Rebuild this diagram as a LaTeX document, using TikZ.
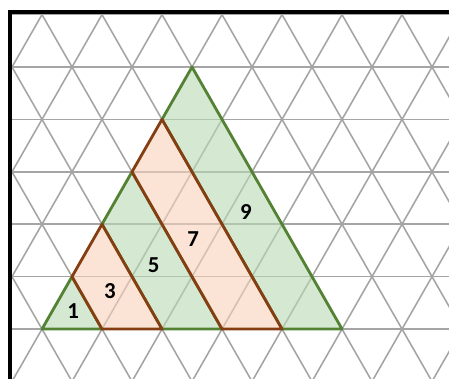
\documentclass[tikz,border=0pt]{standalone}
\usepackage{fontspec}
\setmainfont{Carlito}
\usetikzlibrary{calc}
\definecolor{gridgray}{RGB}{165,165,165}
\definecolor{rgreen}{RGB}{84,130,53}
\definecolor{rgreenfill}{RGB}{185,217,180}
\definecolor{rbrown}{RGB}{133,62,18}
\definecolor{rorangefill}{RGB}{248,210,187}
\tikzset{
  gline/.style={gridgray, line width=0.9pt},
  frame/.style={black, line width=2.5pt},
  gband/.style={draw=rgreen, fill=rgreenfill, fill opacity=0.6, line width=1.6pt, line join=round},
  oband/.style={draw=rbrown, fill=rorangefill, fill opacity=0.6, line width=1.6pt, line join=round},
  num/.style={font=\fontsize{13}{14}\selectfont\bfseries, text=black},
}

\begin{document}
\begin{tikzpicture}[x=1.2cm, y=1.048cm]
\useasboundingbox (-0.7,-0.935) rectangle (6.783,6.279);
% triangle grid
\begin{scope}
  \clip (-0.538,-0.935) rectangle (6.783,6.05);
  \foreach \r in {-1,...,6} \draw[gline] (-1,\r) -- (7,\r);
  \foreach \k in {-8,...,14} {
    \draw[gline] (\k-0.5,-1) -- (\k+3.5,7);
    \draw[gline] (\k+0.5,-1) -- (\k-3.5,7);
  }
\end{scope}
\draw[frame] (-0.538,-1.2) -- (-0.538,6.05) -- (7.2,6.05);
% odd bands
\draw[gband] (0,0) -- (1,0) -- (0.5,1) -- cycle;
\draw[gband] (1,2) -- (1.5,3) -- (3,0) -- (2,0) -- cycle;
\draw[gband] (2,4) -- (2.5,5) -- (5,0) -- (4,0) -- cycle;
\draw[oband] (0.5,1) -- (1,2) -- (2,0) -- (1,0) -- cycle;
\draw[oband] (1.5,3) -- (2,4) -- (4,0) -- (3,0) -- cycle;
\node[num] (n1) at (0.52,0.35) {1};
\node[num] (n3) at (1.13,0.73) {3};
\node[num] (n5) at (1.86,1.22) {5};
\node[num] (n7) at (2.52,1.71) {7};
\node[num] (n9) at (3.40,2.23) {9};
\end{tikzpicture}
\end{document}
